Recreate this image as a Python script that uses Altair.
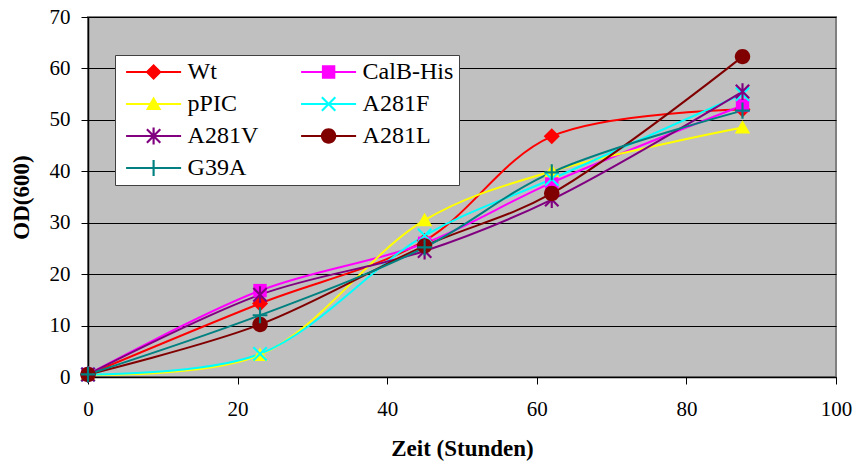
import altair as alt
import pandas as pd

# ---------------- data ----------------
hours = [0, 23, 45, 62, 87.5]
series = ["Wt", "CalB-His", "pPIC", "A281F", "A281V", "A281L", "G39A"]
wt = [0.5, 14.3, 26.5, 46.8, 52.0]
calb = [0.5, 16.8, 26.0, 37.8, 52.8]
ppic = [0.5, 4.3, 30.5, 40.0, 48.5]
a281f = [0.5, 4.5, 27.5, 38.5, 55.0]
a281v = [0.5, 16.0, 24.5, 34.5, 55.5]
a281l = [0.5, 10.2, 25.5, 35.7, 62.3]
g39a = [0.5, 12.0, 25.2, 39.8, 51.8]
values = [wt, calb, ppic, a281f, a281v, a281l, g39a]
x_ticks = [0, 20, 40, 60, 80, 100]
y_ticks = [0, 10, 20, 30, 40, 50, 60, 70]

# ---------------- styles ----------------
colors = ["#FF0000", "#FF00FF", "#FFFF00", "#00FFFF", "#800080", "#800000", "#008080"]
t = 0.16
d = round(t / 1.4142, 3)
diamond = "M0,-1.2L1.2,0L0,1.2L-1.2,0Z"
square = "M-1,-1H1V1H-1Z"
triangle = "M0,-1.1L1.15,0.9H-1.15Z"
xmark = (f"M{-1+d},{-1-d}L{1+d},{1-d}L{1-d},{1+d}L{-1-d},{-1+d}Z"
         f"M{1+d},{-1+d}L{-1+d},{1+d}L{-1-d},{1-d}L{1-d},{-1-d}Z")
star = xmark + f"M{-t},-1.25H{t}V1.25H{-t}Z"
circle = "M-1.15,0A1.15,1.15,0,1,1,1.15,0A1.15,1.15,0,1,1,-1.15,0Z"
plus = f"M-1.1,{-t}H1.1V{t}H-1.1ZM{-t},-1.2H{t}V1.2H{-t}Z"
shapes = [diamond, square, triangle, xmark, star, circle, plus]
legend_line = f"M-4.1,{-t}H4.1V{t}H-4.1Z"
legend_shapes = [legend_line + s for s in shapes]

rows = []
for i, name in enumerate(series):
    for h, v in zip(hours, values[i]):
        rows.append({"series": name, "hour": h, "od": v,
                     "col": colors[i], "shp": shapes[i], "idx": i})
df = pd.DataFrame(rows)

FONT = "Liberation Serif"

x_enc = alt.X("hour:Q", scale=alt.Scale(domain=[0, 100], nice=False),
              axis=alt.Axis(values=x_ticks, grid=False, title="Zeit (Stunden)",
                            labelFlush=False, labelPadding=14, titlePadding=18))
y_enc = alt.Y("od:Q", scale=alt.Scale(domain=[0, 70], nice=False),
              axis=alt.Axis(values=y_ticks, grid=True, title="OD(600)",
                            labelFlush=False, labelPadding=11, titlePadding=16))

lines = alt.Chart(df).mark_line(interpolate="catmull-rom", strokeWidth=2).encode(
    x=x_enc, y=y_enc, detail="series:N",
    stroke=alt.Stroke("col:N", scale=None),
)

points = alt.Chart(df).mark_point(filled=True, size=180, opacity=1, strokeWidth=0).encode(
    x=x_enc, y=y_enc,
    fill=alt.Fill("col:N", scale=None),
    shape=alt.Shape("shp:N", scale=None),
)

leg = alt.Legend(
    title=None, orient="none", legendX=27, legendY=38, columns=2, direction="horizontal",
    fillColor="white", strokeColor="#404040", padding=5,
    symbolSize=180, symbolOffset=21.6, labelOffset=22, symbolStrokeWidth=0,
    labelFont=FONT, labelFontSize=24, labelColor="black",
    rowPadding=8, columnPadding=36, labelLimit=300,
)
legend_layer = alt.Chart(df).transform_filter("false").mark_point(
    filled=True, opacity=1, strokeWidth=0
).encode(
    x=x_enc, y=y_enc,
    color=alt.Color("series:N", scale=alt.Scale(domain=series, range=colors), legend=leg),
    shape=alt.Shape("series:N", scale=alt.Scale(domain=series, range=legend_shapes), legend=leg),
)

chart = alt.layer(lines, points, legend_layer).properties(
    width=748, height=360,
    background="white",
    autosize=alt.AutoSizeParams(type="none"),
    padding={"left": 88, "top": 17, "right": 17, "bottom": 84},
).configure_view(
    fill="#C0C0C0", stroke="#808080", strokeWidth=2,
).configure_axis(
    domainColor="black", domainWidth=1.5, tickColor="black", tickSize=7,
    gridColor="black", gridOpacity=1, gridWidth=1,
    labelFont=FONT, labelFontSize=21, labelColor="black",
    titleFont=FONT, titleFontSize=23, titleFontWeight="bold", titleColor="black",
)

chart.save("out.html", embed_options={"renderer": "svg", "actions": False})
